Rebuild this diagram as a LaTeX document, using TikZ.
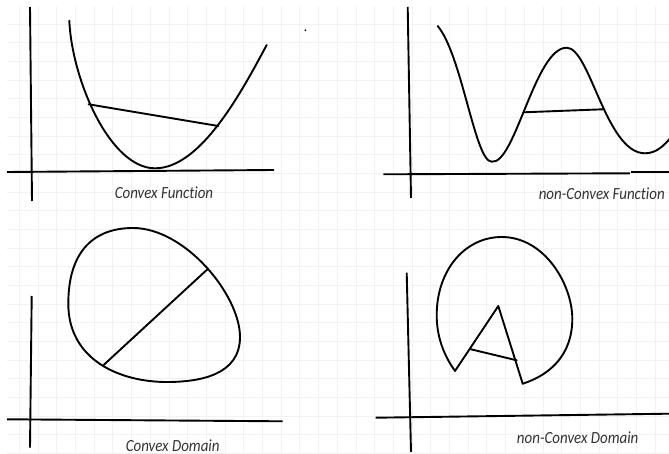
\documentclass[tikz,border=0pt]{standalone}
\usepackage{fontspec}
\setmainfont{Carlito}[Ligatures={NoCommon}, FakeStretch=0.88]
\begin{document}
\begin{tikzpicture}[x=1pt,y=-1pt,
  gridline/.style={draw=black!5, line width=0.6pt},
  axisline/.style={draw=black, line width=1.9pt},
  curveline/.style={draw=black, line width=1.9pt, line join=round, line cap=round},
  caption/.style={font=\fontsize{17}{20}\selectfont\itshape, text=black!80, inner sep=0pt}]
\useasboundingbox (0,0) rectangle (669,454);
\fill[white] (0,0) rectangle (669,454);
% grid
\begin{scope}
\clip (7,7) rectangle (669,454);
\foreach \k in {0,...,36} {\draw[gridline] ({0.5+18.7*\k},0) -- ({0.5+18.7*\k},454);}
\foreach \k in {0,...,25} {\draw[gridline] (0,{5.5+18.65*\k}) -- (669,{5.5+18.65*\k});}
\end{scope}
% stray dot
\fill (305.4,30.3) circle (1pt);

% ---------- Convex function ----------
\draw[axisline] (30,7) -- (32,201);
\draw[axisline] (7,172) -- (274,170);
\draw[curveline] (69.3,20.7) .. controls (72,80) and (110,168.3) .. (155,168.3)
                 .. controls (200,168.3) and (240,95) .. (266.7,45);
\coordinate (cfa) at (88.6,104.3);
\coordinate (cfb) at (218.3,126);
\draw[curveline] (cfa) -- (cfb);
\node[caption] (cflabel) at (164,193) {Convex Function};

% ---------- non-Convex function ----------
\draw[axisline] (407.7,7) -- (411,198);
\draw[axisline] (383.3,174.3) -- (630,173.3);
\draw[axisline] (631,172.3) -- (669,172.3);
\draw[curveline] (437.7,26) .. controls (462,55) and (475,161.7) .. (491.7,161.7)
                 .. controls (515,165) and (535,47.7) .. (566.7,47.7)
                 .. controls (590,47.7) and (606,153.3) .. (645,153.3)
                 .. controls (656,153.3) and (664,146) .. (672,136);
\coordinate (nfa) at (523.5,112.3);
\coordinate (nfb) at (603,109.3);
\draw[curveline] (nfa) -- (nfb);
\node[caption, anchor=east] (nflabel) at (665,193.3) {non-Convex Function};

% ---------- Convex domain ----------
\draw[axisline] (31.7,296) -- (30,447.7);
\draw[axisline] (7,419.3) -- (282.7,421.3);
\draw[curveline] (133,228) .. controls (185,228) and (240,295) .. (240,337)
                 .. controls (240,375) and (200,382) .. (166.7,382)
                 .. controls (120,382) and (68.3,360) .. (68.3,303.7)
                 .. controls (68.3,250) and (95,228) .. (133,228) -- cycle;
\coordinate (cda) at (103.3,365.3);
\coordinate (cdb) at (208.3,268.5);
\draw[curveline] (cda) -- (cdb);
\node[caption] (cdlabel) at (172.7,445.3) {Convex Domain};

% ---------- non-Convex domain ----------
\draw[axisline] (406.7,272.7) -- (411,452);
\draw[axisline] (375.7,417.7) -- (669,413.7);
\coordinate (ndl) at (455,371);
\coordinate (ndr) at (522.7,383.7);
\coordinate (ndapex) at (498.3,306);
\draw[curveline] (ndl) .. controls (440,350) and (436.7,330) .. (436.7,315.3)
                 .. controls (436.7,270) and (465,237) .. (501.7,237)
                 .. controls (545,237) and (572.3,285) .. (572.3,318.7)
                 .. controls (572.3,355) and (550,375) .. (ndr);
\draw[curveline] (ndl) -- (ndapex) -- (ndr);
\coordinate (nda) at (471,349.3);
\coordinate (ndb) at (516.7,360.3);
\draw[curveline] (nda) -- (ndb);
\node[caption] (ndlabel) at (577.7,437.7) {non-Convex Domain};
\end{tikzpicture}
\end{document}
